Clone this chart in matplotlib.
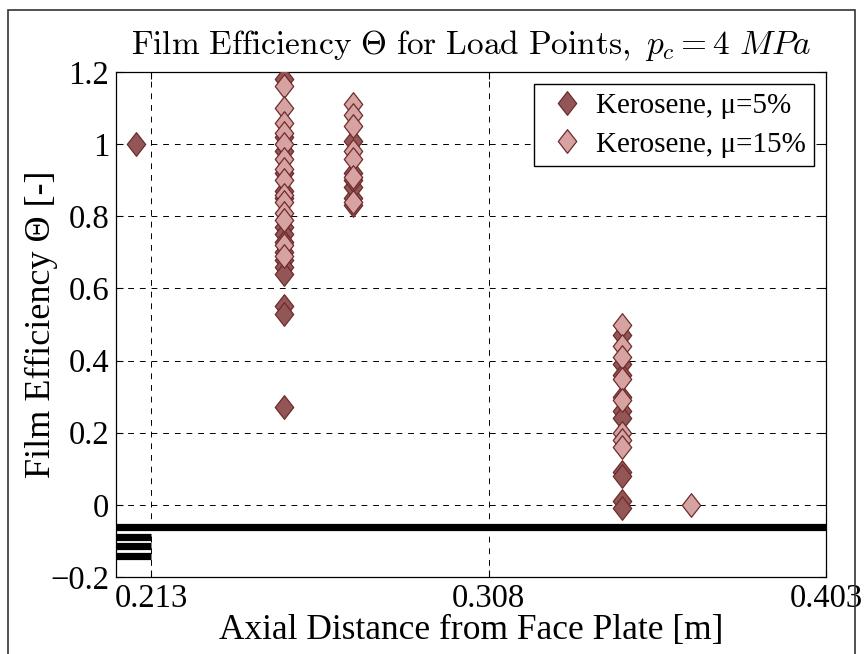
import matplotlib
matplotlib.use("Agg")
import matplotlib.pyplot as plt
from matplotlib.path import Path
from matplotlib.patches import Rectangle

plt.rcParams["font.family"] = ["Liberation Serif", "DejaVu Serif"]
plt.rcParams["mathtext.fontset"] = "cm"

# Axial positions [m] and film efficiencies for each load point
x_low = [0.2088,
         0.2504, 0.2504, 0.2504, 0.2504, 0.2504, 0.2504, 0.2504, 0.2504,
         0.2504, 0.2504, 0.2504, 0.2504, 0.2504, 0.2504, 0.2504, 0.2504,
         0.2699, 0.2699, 0.2699, 0.2699, 0.2699, 0.2699,
         0.3456, 0.3456, 0.3456, 0.3456, 0.3456, 0.3456, 0.3456, 0.3456,
         0.3456, 0.3456]
theta_low = [1.00,
             1.18, 1.02, 0.98, 0.92, 0.87, 0.85, 0.77, 0.75,
             0.73, 0.70, 0.68, 0.66, 0.64, 0.55, 0.53, 0.27,
             0.83, 0.85, 0.88, 0.90, 0.92, 1.01,
             0.47, 0.39, 0.36, 0.30, 0.26, 0.24, 0.09, 0.08,
             0.01, -0.01]

x_high = [0.2504, 0.2504, 0.2504, 0.2504, 0.2504, 0.2504, 0.2504,
          0.2504, 0.2504, 0.2504, 0.2504, 0.2504, 0.2504, 0.2504,
          0.2699, 0.2699, 0.2699, 0.2699, 0.2699, 0.2699, 0.2699,
          0.3456, 0.3456, 0.3456, 0.3456, 0.3456, 0.3456, 0.3456, 0.3456,
          0.3650]
theta_high = [1.16, 1.10, 1.06, 1.03, 1.00, 0.96, 0.93,
              0.90, 0.86, 0.84, 0.81, 0.79, 0.72, 0.69,
              1.11, 1.08, 1.05, 0.98, 0.96, 0.91, 0.84,
              0.50, 0.44, 0.41, 0.35, 0.29, 0.20, 0.18, 0.16,
              0.00]

# Horizontal reference bars below zero
bar_long_y = [-0.061]
bar_short_y = [-0.089, -0.114, -0.141]

x_ticks = [0.213, 0.308, 0.403]
x_ticklabels = ["0.213", "0.308", "0.403"]
y_ticks = [-0.2, 0.0, 0.2, 0.4, 0.6, 0.8, 1.0, 1.2]
y_ticklabels = ["\u22120.2", "0", "0.2", "0.4", "0.6", "0.8", "1", "1.2"]

# Tall diamond marker
diamond = Path([(0, -1), (0.78, 0), (0, 1), (-0.78, 0), (0, -1)],
               [Path.MOVETO, Path.LINETO, Path.LINETO, Path.LINETO, Path.CLOSEPOLY])

fig = plt.figure(figsize=(8.67, 6.54), dpi=100)
ax = fig.add_axes([0.1338, 0.1177, 0.9527 - 0.1338, 0.8899 - 0.1177])

edge = "#6E2B2B"
ax.plot(x_low, theta_low, linestyle="none", marker=diamond, markersize=17,
        markerfacecolor="#925656", markeredgecolor=edge, markeredgewidth=0.9,
        label="Kerosene, \u03bc=5%", zorder=3)
ax.plot(x_high, theta_high, linestyle="none", marker=diamond, markersize=17,
        markerfacecolor="#D6A2A2", markeredgecolor=edge, markeredgewidth=0.9,
        label="Kerosene, \u03bc=15%", zorder=3)

xmin, xmax = 0.2031, 0.403
for y in bar_long_y:
    ax.plot([xmin, xmax], [y, y], color="black", linewidth=5.2,
            solid_capstyle="butt", zorder=2)
for y in bar_short_y:
    ax.plot([xmin, 0.213], [y, y], color="black", linewidth=5.2,
            solid_capstyle="butt", zorder=2)

ax.set_xlim(xmin, xmax)
ax.set_ylim(-0.2, 1.2)
ax.set_xticks(x_ticks)
ax.set_xticklabels(x_ticklabels)
ax.set_yticks(y_ticks)
ax.set_yticklabels(y_ticklabels)
ax.tick_params(direction="in", labelsize=23.5, length=5, width=0.8, pad=5,
               top=True, right=True)
ax.grid(True, color="black", linestyle=(0, (6, 6)), linewidth=0.7)
for s in ax.spines.values():
    s.set_linewidth(0.9)

ax.set_xlabel("Axial Distance from Face Plate [m]", fontsize=25.5, labelpad=0)
ax.set_ylabel("Film Efficiency \u0398 [-]", fontsize=26)
ax.yaxis.set_label_coords(-0.082, 0.5)
ax.set_title(r"$\mathrm{Film\ Efficiency\ }\Theta\mathrm{\ for\ Load\ Points,\ }p_c = 4\ MPa$",
             fontsize=24, pad=13)

leg = ax.legend(loc="upper right", fontsize=21, frameon=True, fancybox=False,
                edgecolor="black", framealpha=1, borderaxespad=0.4,
                handletextpad=0.2, handlelength=1.6, borderpad=0.3,
                labelspacing=0.42)
leg.get_frame().set_linewidth(1.0)

# Outer frame around the figure
fig.patches.append(Rectangle((8 / 867, -0.02), (855 - 8) / 867, 1 - 10 / 654 + 0.02,
                             transform=fig.transFigure, fill=False,
                             edgecolor="#333333", linewidth=1.2))

fig.savefig("out.png", dpi=100)
